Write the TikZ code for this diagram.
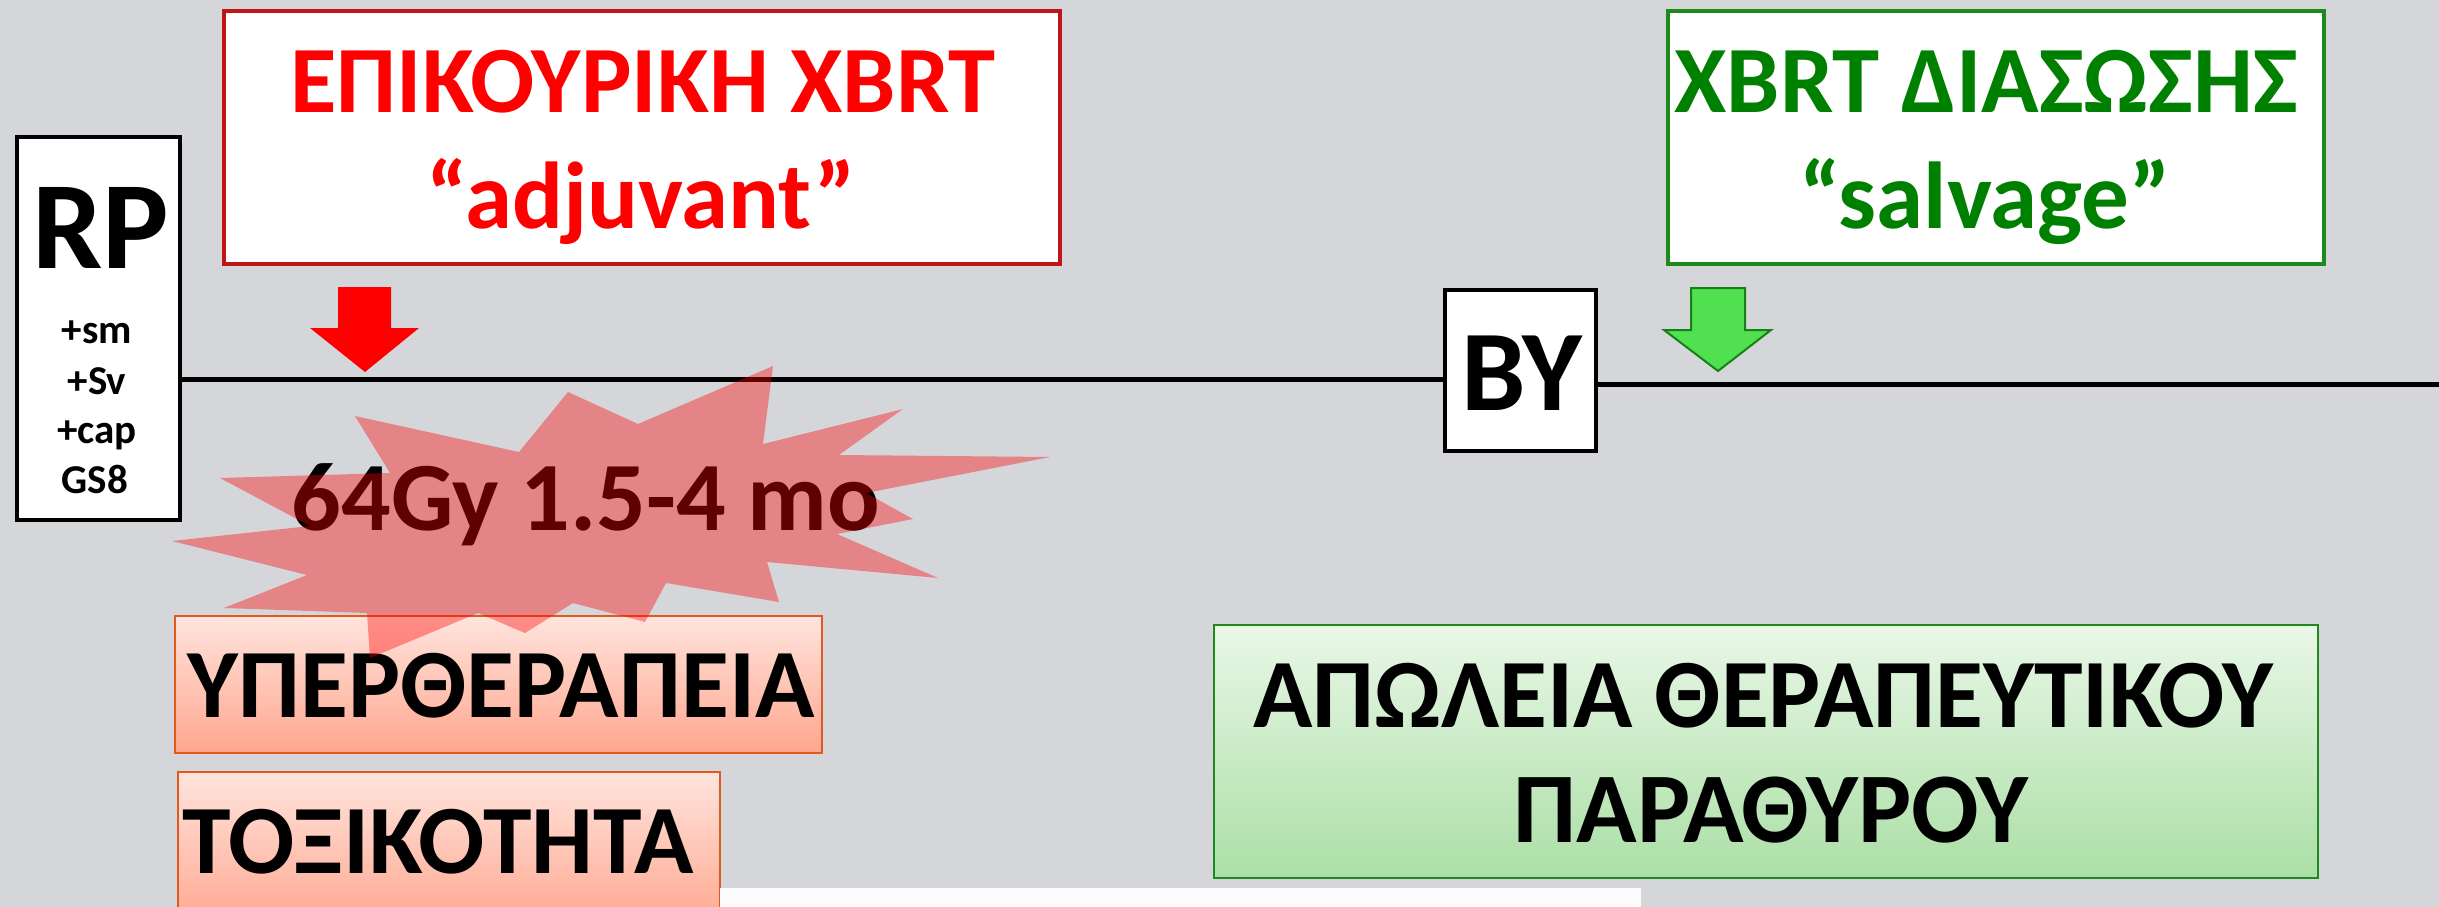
\documentclass[tikz,border=0pt]{standalone}
\usepackage{fontspec}
\setmainfont{Carlito}
\newcommand\fsz[1]{\fontsize{#1}{#1}\selectfont}
\definecolor{bg}{RGB}{213,214,218}
\definecolor{boxred}{RGB}{190,22,22}
\definecolor{boxgreen}{RGB}{30,138,30}
\definecolor{txtgreen}{RGB}{0,128,0}
\definecolor{orangeedge}{RGB}{222,90,30}
\definecolor{pinktop}{RGB}{255,228,221}
\definecolor{pinkbot}{RGB}{255,166,142}
\definecolor{greentop}{RGB}{233,247,231}
\definecolor{greenbot}{RGB}{171,223,166}
\definecolor{arrowgreen}{RGB}{80,224,80}
\definecolor{arrowgreenedge}{RGB}{20,130,20}
\begin{document}
\begin{tikzpicture}[x=1pt,y=-1pt,
  blkbox/.style={draw=black, line width=4pt, fill=white, inner sep=0pt},
  redbox/.style={draw=boxred, line width=3.5pt, fill=white, inner sep=0pt},
  grnbox/.style={draw=boxgreen, line width=3.5pt, fill=white, inner sep=0pt},
  pinkbox/.style={draw=orangeedge, line width=2pt, top color=pinktop, bottom color=pinkbot, inner sep=0pt},
  lgbox/.style={draw=boxgreen, line width=2.5pt, top color=greentop, bottom color=greenbot, inner sep=0pt},
  txt/.style={inner sep=0pt, anchor=base, font=\bfseries},
  axisline/.style={line width=5pt, black}
]
\clip (0,0) rectangle (2439,907);
\fill[bg] (0,0) rectangle (2439,907);
\coordinate (lineL) at (0,379);
\coordinate (endR) at (2439,384);

% boxes
\node[blkbox, minimum width=163, minimum height=383] (rp) at (98.5,328.5) {};
\node[blkbox, minimum width=151, minimum height=161] (by) at (1520.5,370.5) {};

% axis lines
\draw[axisline] (rp.east |- lineL) -- (by.west |- lineL);
\draw[axisline] (by.east |- endR) -- (endR);

\node[redbox, minimum width=836, minimum height=253] (adj) at (642,137.5) {};
\node[grnbox, minimum width=656, minimum height=253] (salv) at (1996,137.5) {};
\node[pinkbox, minimum width=647, minimum height=137] (over) at (498.5,684.5) {};
\node[pinkbox, minimum width=542, minimum height=158] (tox) at (449,851) {};
\node[lgbox, minimum width=1104, minimum height=253] (loss) at (1766,751.5) {};
\fill[white!99!black] (720,888) rectangle (1641,920);

% texts
\node[txt] (rpt) at (101,268) {\fsz{125}RP};
\node[txt] (sm) at (97,343) {\fsz{41}+sm};
\node[txt] (sv) at (97,394) {\fsz{41}+Sv};
\node[txt] (cap) at (97,443) {\fsz{41}+cap};
\node[txt] (gs) at (95,493) {\fsz{41}GS8};
\node[txt] (byt) at (1522,410) {\fsz{115}BY};
\node[txt, text=red] (adj1) at (643,112) {\fsz{95}ΕΠΙΚΟΥΡΙΚΗ XBRT};
\node[txt, text=red] (adj2) at (641,228) {\fsz{95}“adjuvant”};
\node[txt, text=txtgreen] (salv1) at (1986,112) {\fsz{95}XBRT ΔΙΑΣΩΣΗΣ};
\node[txt, text=txtgreen] (salv2) at (1985,228) {\fsz{95}“salvage”};
\node[txt] (dose) at (586,530) {\fsz{98}64Gy 1.5-4 mo};
\node[txt] (overt) at (501,717) {\fsz{98}ΥΠΕΡΘΕΡΑΠΕΙΑ};
\node[txt] (toxt) at (438,873) {\fsz{98}ΤΟΞΙΚΟΤΗΤΑ};
\node[txt] (loss1) at (1763,727) {\fsz{98}ΑΠΩΛΕΙΑ ΘΕΡΑΠΕΥΤΙΚΟΥ};
\node[txt] (loss2) at (1771,842) {\fsz{100}ΠΑΡΑΘΥΡΟΥ};

% block arrows
\fill[red] (338,287) -- (391,287) -- (391,328) -- (419,328) -- (365,372) -- (310,328) -- (338,328) -- cycle;
\draw[arrowgreenedge, fill=arrowgreen, line width=2pt, line join=miter]
  (1691,288) -- (1745,288) -- (1745,330) -- (1771,330) -- (1718,371) -- (1664,330) -- (1691,330) -- cycle;

% starburst
\fill[red, fill opacity=0.38]
  (773,366) -- (763,444) -- (903,409) -- (839,455) -- (1050,457) -- (866,493) -- (913,519)
  -- (837,534) -- (938,578) -- (767,562) -- (779,602) -- (666,583) -- (645,622) -- (573,603)
  -- (525,633) -- (478,613) -- (370,658) -- (367,613) -- (224,608) -- (307,575) -- (172,541)
  -- (310,526) -- (220,478) -- (390,473) -- (355,416) -- (519,452) -- (568,392) -- (638,424) -- cycle;
\end{tikzpicture}
\end{document}
